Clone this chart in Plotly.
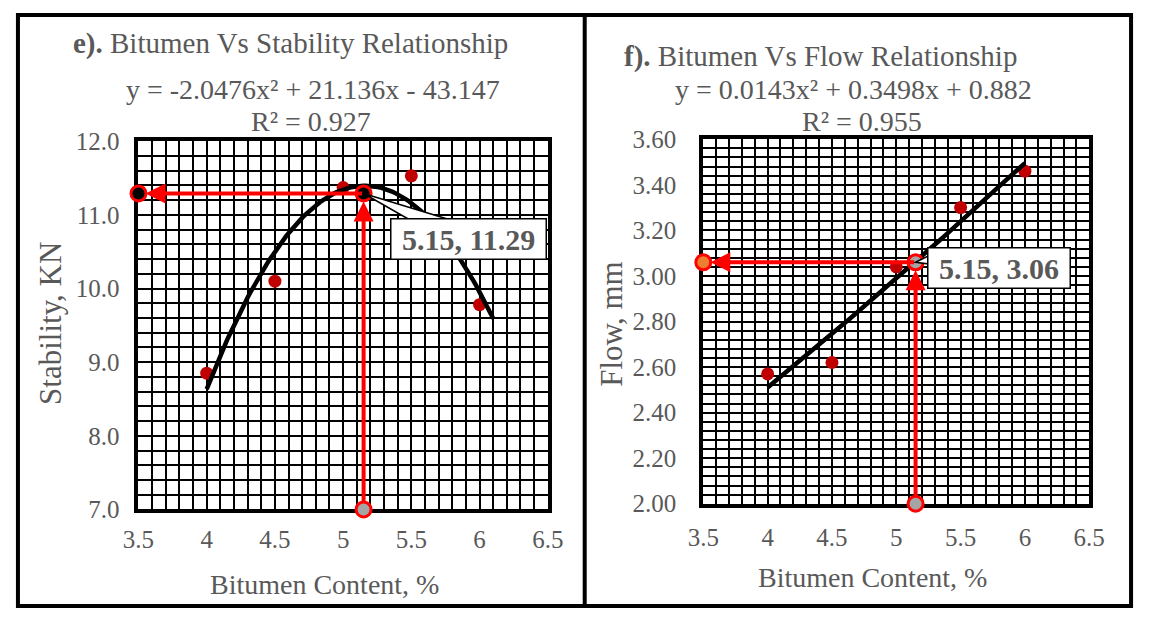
import numpy as np
import plotly.graph_objects as go

# ---- data -------------------------------------------------------------
bitumen = [4.0, 4.5, 5.0, 5.5, 6.0]
stability = [8.85, 10.10, 11.37, 11.53, 9.78]
flow = [2.57, 2.62, 3.04, 3.30, 3.46]

# polynomial trendlines (a, b, c for a*x^2 + b*x + c)
stab_coef = [-2.0476, 21.136, -43.147]
flow_coef = [0.0143, 0.3498, 0.882]
stab_r2 = 0.927
flow_r2 = 0.955
stab_fit_range = [4.0, 6.1]
flow_fit_range = [4.0, 6.0]

# optimum bitumen content and the values
opt_bitumen = 5.15
opt_stability = 11.29
opt_flow = 3.06

x_range = [3.5, 6.5]
stab_range = [7.0, 12.0]
flow_range = [2.0, 3.6]

# ---- styling ----------------------------------------------------------
W, H = 1149, 622
FONT = "Liberation Serif, Times New Roman, serif"
GREY = "#595959"
RED = "#FF0000"
DARK_RED = "#C00000"
FS = 29
EQ_FS = 28
AX_FS = 28
YT_FS = 31
TICK_FS = 25


def px(x):
    return x / W


def py(y):
    return 1 - y / H


def poly(coef, xs):
    xs = np.asarray(xs)
    return coef[0] * xs ** 2 + coef[1] * xs + coef[2]


def fmt_eq(coef):
    a, b, c = coef
    s = "y = {}x²".format(a)
    s += " + {}x".format(b) if b >= 0 else " - {}x".format(-b)
    s += " + {}".format(c) if c >= 0 else " - {}".format(-c)
    return s


fig = go.Figure()

panels = [
    dict(xa="x", ya="y", y=stability, coef=stab_coef, rng=stab_fit_range,
         opt=opt_stability, ylo=stab_range[0], start_fill="black", base_fill="#A5A5A5",
         opt_fill="black"),
    dict(xa="x2", ya="y2", y=flow, coef=flow_coef, rng=flow_fit_range,
         opt=opt_flow, ylo=flow_range[0], start_fill="#ED7D31", base_fill="#A5A5A5",
         opt_fill="#A5A5A5"),
]

for p in panels:
    # measured points
    fig.add_trace(go.Scatter(
        x=bitumen, y=p["y"], mode="markers", xaxis=p["xa"], yaxis=p["ya"],
        marker=dict(size=13, color=DARK_RED), showlegend=False, hoverinfo="skip"))
    # trendline from the fitted equation
    tx = np.linspace(p["rng"][0], p["rng"][1], 120)
    fig.add_trace(go.Scatter(
        x=tx, y=poly(p["coef"], tx), mode="lines", xaxis=p["xa"], yaxis=p["ya"],
        line=dict(color="black", width=4.5), showlegend=False, hoverinfo="skip"))
    # end markers of the red guide lines
    fig.add_trace(go.Scatter(
        x=[x_range[0], opt_bitumen, opt_bitumen], y=[p["opt"], p["ylo"], p["opt"]],
        mode="markers", xaxis=p["xa"], yaxis=p["ya"], cliponaxis=False,
        marker=dict(size=15, color=[p["start_fill"], p["base_fill"], p["opt_fill"]],
                    line=dict(color=RED, width=3)),
        showlegend=False, hoverinfo="skip"))

annotations = []
for p in panels:
    # horizontal guide: from the optimum point to the y axis
    annotations.append(dict(
        x=x_range[0], y=p["opt"], ax=opt_bitumen, ay=p["opt"],
        xref=p["xa"], yref=p["ya"], axref=p["xa"], ayref=p["ya"],
        text="", showarrow=True, arrowhead=2, arrowsize=1, arrowwidth=4,
        arrowcolor=RED, standoff=7, startstandoff=0))
    # vertical guide: from the x axis up to the optimum point
    annotations.append(dict(
        x=opt_bitumen, y=p["opt"], ax=opt_bitumen, ay=p["ylo"],
        xref=p["xa"], yref=p["ya"], axref=p["xa"], ayref=p["ya"],
        text="", showarrow=True, arrowhead=2, arrowsize=1, arrowwidth=4,
        arrowcolor=RED, standoff=8, startstandoff=7))

# data callouts
annotations.append(dict(
    x=opt_bitumen, y=opt_stability, xref="x", yref="y",
    ax=105, ay=46, showarrow=True, arrowcolor="rgba(0,0,0,0)",
    text="<b>&nbsp;{}, {}&nbsp;</b>".format(opt_bitumen, opt_stability),
    font=dict(family=FONT, size=30, color=GREY),
    bgcolor="white", bordercolor="black", borderwidth=1.5, borderpad=3))
annotations.append(dict(
    x=opt_bitumen, y=opt_flow, xref="x2", yref="y2",
    ax=83, ay=6, showarrow=True, arrowcolor="rgba(0,0,0,0)",
    text="<b>&nbsp;{}, {}&nbsp;</b>".format(opt_bitumen, opt_flow),
    font=dict(family=FONT, size=30, color=GREY),
    bgcolor="white", bordercolor="black", borderwidth=1.5, borderpad=3))


# titles, equations and axis titles
def txt(text, x, y, size=FS, angle=0):
    return dict(text=text, x=px(x), y=py(y), xref="paper", yref="paper",
                showarrow=False, xanchor="center", yanchor="middle", textangle=angle,
                font=dict(family=FONT, size=size, color=GREY))


annotations += [
    txt("<b>e).</b> Bitumen Vs Stability Relationship", 282, 32),
    txt(fmt_eq(stab_coef), 306, 80, EQ_FS),
    txt("R² = {}".format(stab_r2), 303, 113, EQ_FS),
    txt("<b>f).</b> Bitumen Vs Flow Relationship", 828, 45),
    txt(fmt_eq(flow_coef), 862, 80, EQ_FS),
    txt("R² = {}".format(flow_r2), 870, 113, EQ_FS),
    txt("Bitumen Content, %", 317, 597, AX_FS),
    txt("Bitumen Content, %", 881, 590, AX_FS),
    txt("Stability, KN", 36, 324, YT_FS, angle=-90),
    txt("Flow, mm", 613, 325, YT_FS, angle=-90),
]

shapes = [
    # callout pointers (pixel offsets from the labelled point)
    dict(type="path", xref="x", yref="y", xsizemode="pixel", ysizemode="pixel",
         xanchor=opt_bitumen, yanchor=opt_stability,
         path="M0,0 L49,-28 L92,-28 Z", fillcolor="white",
         line=dict(color="black", width=1.5), layer="above"),
    dict(type="path", xref="x2", yref="y2", xsizemode="pixel", ysizemode="pixel",
         xanchor=opt_bitumen, yanchor=opt_flow,
         path="M0,0 L16,8 L16,-2 Z", fillcolor="white",
         line=dict(color="black", width=1.5), layer="above"),
    # frame around both panels and the divider
    dict(type="rect", xref="paper", yref="paper", x0=px(2), x1=px(1147),
         y0=py(620), y1=py(2), line=dict(color="black", width=4)),
    dict(type="line", xref="paper", yref="paper", x0=px(585), x1=px(585),
         y0=py(620), y1=py(2), line=dict(color="black", width=4)),
]

axis_common = dict(
    showgrid=True, gridcolor="black", gridwidth=2,
    showline=True, linecolor="black", linewidth=4, mirror=True,
    zeroline=False, ticks="outside", tickcolor="rgba(0,0,0,0)",
    tickfont=dict(family=FONT, size=TICK_FS, color=GREY), layer="below traces",
    fixedrange=True,
)

fig.update_layout(
    width=W, height=H, margin=dict(l=0, r=0, t=0, b=0),
    paper_bgcolor="white", plot_bgcolor="white", showlegend=False,
    annotations=annotations, shapes=shapes,
    xaxis=dict(domain=[px(126), px(547)], range=x_range, dtick=0.5, tick0=3.5,
               ticklen=5, anchor="y",
               minor=dict(dtick=0.1, showgrid=True, gridcolor="black", gridwidth=2),
               **axis_common),
    yaxis=dict(domain=[py(519), py(134)], range=stab_range, dtick=1.0, tick0=7,
               tickformat=".1f", ticklen=10, anchor="x",
               minor=dict(dtick=0.2, showgrid=True, gridcolor="black", gridwidth=2),
               **axis_common),
    xaxis2=dict(domain=[px(707), px(1104)], range=x_range, dtick=0.5, tick0=3.5,
                ticklen=8, anchor="y2",
                minor=dict(dtick=0.1, showgrid=True, gridcolor="black", gridwidth=2),
                **axis_common),
    yaxis2=dict(domain=[py(513), py(132)], range=flow_range, dtick=0.2, tick0=2,
                tickformat=".2f", ticklen=18, anchor="x2",
                minor=dict(dtick=0.04, showgrid=True, gridcolor="black", gridwidth=2),
                **axis_common),
)

fig.write_html("out.html", post_script="document.body.style.margin='0';")
